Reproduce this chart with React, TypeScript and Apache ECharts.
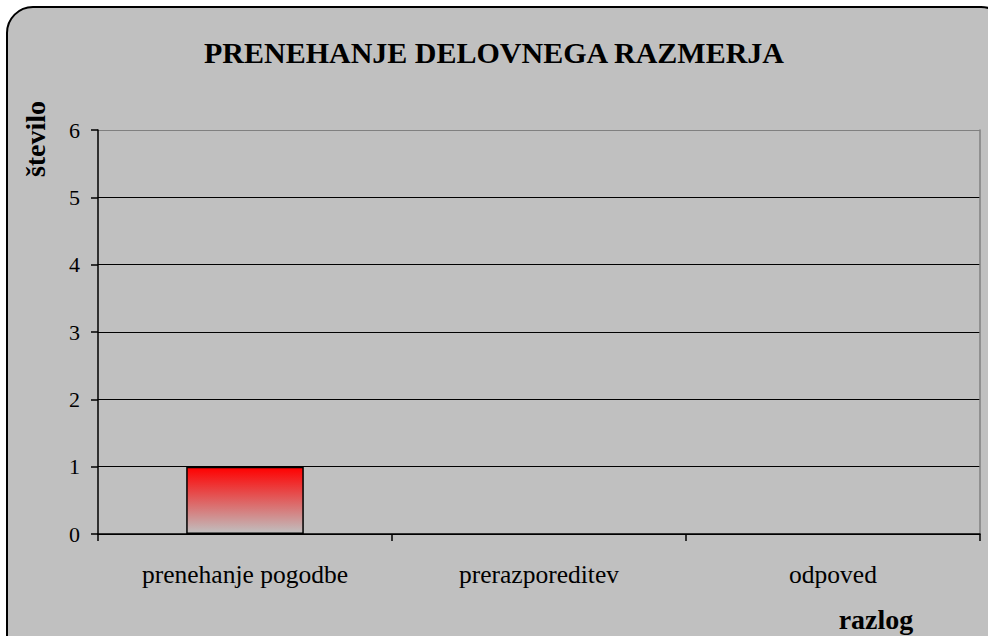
import React, { useEffect, useRef } from "react";
import * as echarts from "echarts";

const categories = ["prenehanje pogodbe", "prerazporeditev", "odpoved"];
const values = [1, 0, 0];
const titleText = "PRENEHANJE DELOVNEGA RAZMERJA";
const yName = "število";
const xName = "razlog";

const FONT = "'Liberation Serif', 'Times New Roman', serif";

export default function App() {
  const ref = useRef<HTMLDivElement>(null);
  useEffect(() => {
    if (!ref.current) return;
    const chart = echarts.init(ref.current, null, { renderer: "svg" });
    const gradient = new echarts.graphic.LinearGradient(0, 0, 0, 1, [
      { offset: 0, color: "#ff0000" },
      { offset: 1, color: "#c0c0c0" },
    ]);
    chart.setOption({
      animation: false,
      backgroundColor: "#ffffff",
      graphic: [
        {
          type: "rect",
          z: -10,
          shape: { x: 7, y: 7, width: 1000, height: 660, r: 26 },
          style: { fill: "#c0c0c0", stroke: "#000", lineWidth: 2 },
          silent: true,
        },
        {
          type: "text",
          x: 494,
          y: 52,
          style: {
            text: titleText,
            font: `bold 30px ${FONT}`,
            fill: "#000",
            align: "center",
            verticalAlign: "middle",
          },
        },
        {
          type: "text",
          x: 35,
          y: 139,
          rotation: Math.PI / 2,
          style: {
            text: yName,
            font: `bold 28px ${FONT}`,
            fill: "#000",
            align: "center",
            verticalAlign: "middle",
          },
        },
        {
          type: "text",
          x: 876,
          y: 619,
          style: {
            text: xName,
            font: `bold 28px ${FONT}`,
            fill: "#000",
            align: "center",
            verticalAlign: "middle",
          },
        },
      ],
      grid: { left: 98, right: 8, top: 130, bottom: 102, containLabel: false },
      xAxis: {
        type: "category",
        data: categories,
        boundaryGap: true,
        axisLine: { show: true, lineStyle: { color: "#000", width: 1.5 } },
        axisTick: { show: true, length: 7, alignWithLabel: false, lineStyle: { color: "#000", width: 1.5 } },
        axisLabel: { color: "#000", fontFamily: FONT, fontSize: 25.5, margin: 27 },
        splitLine: { show: false },
      },
      yAxis: [
        {
          type: "value",
          min: 0,
          max: 6,
          interval: 1,
          axisLine: { show: true, lineStyle: { color: "#000", width: 1.5 } },
          axisTick: { show: true, length: 7, lineStyle: { color: "#000", width: 1.5 } },
          axisLabel: { color: "#000", fontFamily: FONT, fontSize: 22, margin: 18 },
          splitLine: {
            show: true,
            lineStyle: {
              color: ["#000", "#000", "#000", "#000", "#000", "#000", "#808080"],
              width: 1,
            },
          },
        },
        {
          type: "value",
          min: 0,
          max: 6,
          interval: 1,
          position: "right",
          axisLine: { show: true, lineStyle: { color: "#808080", width: 1.5 } },
          axisTick: { show: false },
          axisLabel: { show: false },
          splitLine: { show: false },
        },
      ],
      series: [
        {
          type: "bar",
          data: values.map((v) => ({
            value: v,
            itemStyle: {
              color: gradient,
              borderColor: "#000",
              borderWidth: v === 0 ? 0 : 1.5,
            },
          })),
          barWidth: "40%",
        },
      ],
    });
    return () => chart.dispose();
  }, []);
  return (
    <div
      ref={ref}
      style={{ position: "fixed", left: 0, top: 0, width: 988, height: 636 }}
    />
  );
}
